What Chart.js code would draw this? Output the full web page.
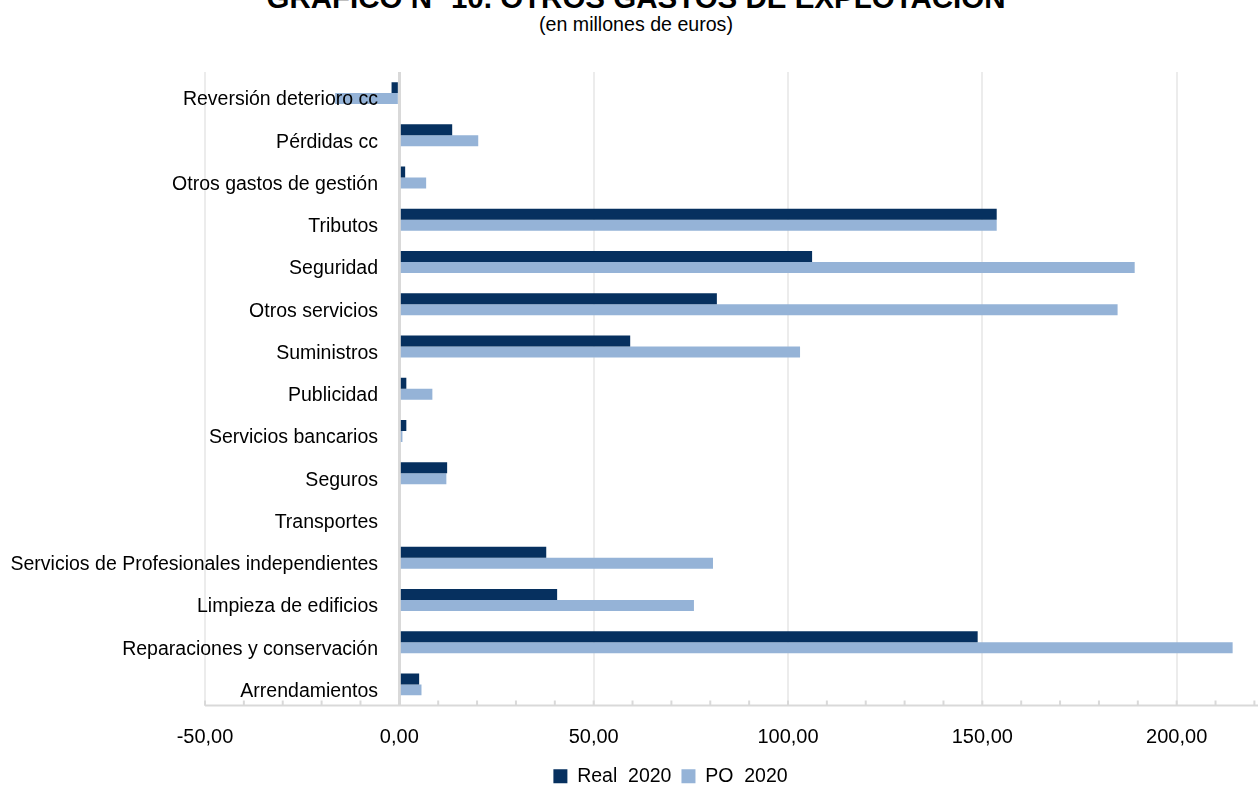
<!DOCTYPE html>
<html>
<head>
<meta charset="utf-8">
<script src="https://cdn.jsdelivr.net/npm/chart.js@4"></script>
<style>
  html, body { margin:0; padding:0; width:1258px; height:786px; overflow:hidden; background:#fff; }
  #t1 { position:absolute; left:186px; width:900px; top:-19px; text-align:center; font:bold 29.5px "Liberation Sans", Arial, sans-serif; color:#000; white-space:nowrap; }
  #t2 { position:absolute; left:236px; width:800px; top:13px; text-align:center; font:19.6px "Liberation Sans", Arial, sans-serif; color:#000; }
  #wrap { position:absolute; left:-100px; top:40px; width:1540px; height:756px; }
</style>
</head>
<body>
<div id="t1">GRÁFICO Nº 10. OTROS GASTOS DE EXPLOTACIÓN</div>
<div id="t2">(en millones de euros)</div>
<div id="wrap"><canvas id="c" width="1540" height="756"></canvas></div>
<script>
const categories = [
  "Reversión deterioro cc",
  "Pérdidas cc",
  "Otros gastos de gestión",
  "Tributos",
  "Seguridad",
  "Otros servicios",
  "Suministros",
  "Publicidad",
  "Servicios bancarios",
  "Seguros",
  "Transportes",
  "Servicios de Profesionales independientes",
  "Limpieza de edificios",
  "Reparaciones y conservación",
  "Arrendamientos"
];
const real2020 = [-2.0, 13.6, 1.5, 153.7, 106.2, 81.7, 59.4, 1.8, 1.8, 12.3, 0, 37.8, 40.6, 148.8, 5.1];
const po2020   = [-16.5, 20.3, 6.9, 153.7, 189.2, 184.8, 103.1, 8.5, 0.8, 12.1, 0, 80.7, 75.8, 214.4, 5.7];
const xTicks = [-50, 0, 50, 100, 150, 200, 250];

const FONT = '"Liberation Sans", Arial, sans-serif';

const minorTicks = {
  id: 'minorTicks',
  afterDatasetsDraw(chart) {
    const x = chart.scales.x, ctx = chart.ctx, b = chart.chartArea.bottom;
    ctx.save();
    ctx.strokeStyle = '#d9d9d9';
    ctx.lineWidth = 2;
    for (let v = -50; v <= 250; v += 10) {
      const px = x.getPixelForValue(v);
      ctx.beginPath(); ctx.moveTo(px, b - 5); ctx.lineTo(px, b); ctx.stroke();
    }
    ctx.beginPath(); ctx.moveTo(chart.chartArea.left, b); ctx.lineTo(chart.chartArea.right, b); ctx.stroke();
    ctx.restore();
  }
};

new Chart(document.getElementById('c'), {
  type: 'bar',
  data: {
    labels: categories,
    datasets: [
      { label: 'Real  2020', data: real2020, backgroundColor: '#06305f', borderWidth: 0 },
      { label: 'PO  2020', data: po2020, backgroundColor: '#95b3d7', borderWidth: 0 }
    ]
  },
  options: {
    indexAxis: 'y',
    responsive: false,
    animation: false,
    devicePixelRatio: 1,
    layout: { padding: { top: 32, right: 69, left: 70, bottom: 0 } },
    datasets: { bar: { categoryPercentage: 0.52, barPercentage: 1.0 } },
    plugins: {
      title: { display: false },
      tooltip: { enabled: false },
      legend: {
        position: 'bottom',
        labels: {
          font: { family: FONT, size: 19.5 },
          color: '#000',
          boxWidth: 14, boxHeight: 14,
          padding: 10
        }
      }
    },
    scales: {
      x: {
        min: -50, max: 250,
        afterBuildTicks(scale) { scale.ticks = xTicks.map(v => ({ value: v })); },
        afterFit(scale) { scale.height -= 13; },
        grid: {
          color: ctx => ctx.tick && ctx.tick.value === 0 ? '#d9d9d9' : '#ececec',
          lineWidth: ctx => ctx.tick && ctx.tick.value === 0 ? 3 : 2,
          drawTicks: false
        },
        border: { display: false },
        ticks: {
          padding: 20,
          color: '#000',
          font: { family: FONT, size: 20 },
          callback: v => v.toFixed(2).replace('.', ',')
        }
      },
      y: {
        afterFit(scale) { scale.width = 235; },
        afterUpdate(scale) { scale._computeLabelArea = () => undefined; },
        grid: { display: false, drawTicks: false },
        border: { display: false },
        ticks: {
          z: 1,
          padding: -173,
          labelOffset: 7,
          color: '#000',
          font: { family: FONT, size: 19.5 }
        }
      }
    }
  },
  plugins: [minorTicks]
});
</script>
</body>
</html>
